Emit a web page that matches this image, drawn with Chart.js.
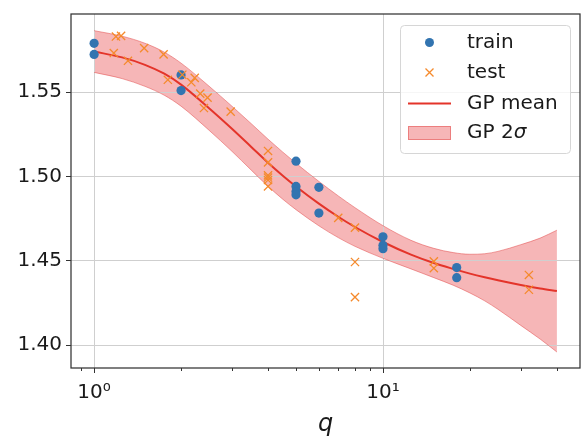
<!DOCTYPE html>
<html>
<head>
<meta charset="utf-8">
<script src="https://cdn.jsdelivr.net/npm/chart.js@4.4.1/dist/chart.umd.min.js"></script>
<style>
  html, body { margin: 0; padding: 0; background: #fff; }
  #wrap { width: 582px; height: 439px; position: relative; }
</style>
</head>
<body>
<div id="wrap"><canvas id="gpChart"></canvas></div>
<script>
// training samples
const trainQ = [1, 1, 2, 2, 5, 5, 5, 5, 6, 6, 10, 10, 10, 18, 18];
const trainY = [1.5791, 1.5725, 1.5603, 1.5510, 1.5090, 1.4940, 1.4910, 1.4890, 1.4935, 1.4782, 1.4641, 1.4590, 1.4570, 1.4458, 1.4398];

// held-out samples
const testQ = [1.17, 1.19, 1.24, 1.31, 1.49, 1.74, 1.80, 2.02, 2.17, 2.23, 2.33, 2.40, 2.47, 2.97,
  4, 4, 4, 4, 4, 4, 7, 8, 8, 8, 15, 15, 32, 32];
const testY = [1.5733, 1.5831, 1.5835, 1.5687, 1.5762, 1.5725, 1.5574, 1.5604, 1.5559, 1.5585, 1.5492, 1.5406, 1.5468, 1.5385,
  1.5151, 1.5083, 1.5006, 1.4993, 1.4978, 1.4940, 1.4753, 1.4695, 1.4491, 1.4282, 1.4495, 1.4454, 1.4414, 1.4326];

// GP posterior on a q grid
const gridQ = [1, 1.25, 1.5, 1.75, 2, 2.5, 3, 3.5, 4, 4.5, 5, 6, 7, 8, 10, 12.5, 15, 17.5, 20, 22.5, 25, 30, 35, 40];
const gpMean = [1.5742, 1.5707, 1.5663, 1.5610, 1.5545, 1.5405, 1.5283, 1.5175, 1.5081, 1.5004, 1.4940, 1.4838,
  1.4760, 1.4699, 1.4610, 1.4535, 1.4485, 1.4450, 1.4422, 1.4400, 1.4382, 1.4354, 1.4333, 1.4318];
const gpUpper = [1.5866, 1.5833, 1.5791, 1.5738, 1.5673, 1.5536, 1.5417, 1.5313, 1.5221, 1.5144, 1.5078, 1.4970,
  1.4884, 1.4814, 1.4707, 1.4620, 1.4572, 1.4547, 1.4537, 1.4540, 1.4554, 1.4594, 1.4633, 1.4680];
const gpLower = [1.5618, 1.5581, 1.5535, 1.5482, 1.5417, 1.5274, 1.5149, 1.5037, 1.4941, 1.4864, 1.4802, 1.4706,
  1.4636, 1.4584, 1.4513, 1.4450, 1.4398, 1.4353, 1.4307, 1.4260, 1.4210, 1.4114, 1.4033, 1.3956];

// axes
const yTicks = [1.40, 1.45, 1.50, 1.55];
const xMajor = [1, 10];
const xMinor = [0.9, 2, 3, 4, 5, 6, 7, 8, 9, 20, 30, 40];
const xLabels = { 1: '10\u2070', 10: '10\u00b9' };
const xTitle = 'q';
const legendLabels = ['train', 'test', 'GP mean', 'GP 2'];

const TRAIN = '#3274b0';
const TEST = '#f58a2c';
const MEAN = '#e4342a';
const BAND = 'rgba(232, 62, 66, 0.38)';
const BAND_EDGE = 'rgba(225, 70, 70, 0.5)';
const GRID = '#cfcfcf';
const SPINE = '#333333';
const TEXT = '#1a1a1a';
const FONT = '"DejaVu Sans", sans-serif';

const pts = (xs, ys) => xs.map((x, i) => ({ x: x, y: ys[i] }));

const axesPlugin = {
  id: 'axesDecor',
  beforeDatasetsDraw(chart) {
    // grid sits above the band but below lines/markers (matplotlib style)
    const { ctx, chartArea: a, scales } = chart;
    ctx.save();
    ctx.strokeStyle = GRID;
    ctx.lineWidth = 1;
    xMajor.forEach(v => {
      const px = Math.round(scales.x.getPixelForValue(v)) + 0.5;
      ctx.beginPath(); ctx.moveTo(px, a.top); ctx.lineTo(px, a.bottom); ctx.stroke();
    });
    yTicks.forEach(v => {
      const py = Math.round(scales.y.getPixelForValue(v)) + 0.5;
      ctx.beginPath(); ctx.moveTo(a.left, py); ctx.lineTo(a.right, py); ctx.stroke();
    });
    ctx.restore();
  },
  afterDraw(chart) {
    const { ctx, chartArea: a, scales } = chart;
    ctx.save();
    // tick marks
    ctx.strokeStyle = SPINE;
    ctx.lineWidth = 1;
    xMajor.concat(xMinor).forEach(v => {
      const px = Math.round(scales.x.getPixelForValue(v)) + 0.5;
      const len = xMajor.includes(v) ? 5 : 3;
      ctx.beginPath(); ctx.moveTo(px, a.bottom); ctx.lineTo(px, a.bottom + len); ctx.stroke();
    });
    yTicks.forEach(v => {
      const py = Math.round(scales.y.getPixelForValue(v)) + 0.5;
      ctx.beginPath(); ctx.moveTo(a.left - 5, py); ctx.lineTo(a.left, py); ctx.stroke();
    });
    // frame
    ctx.lineWidth = 1.25;
    ctx.strokeRect(a.left, a.top, a.right - a.left, a.bottom - a.top);

    // axis title
    ctx.fillStyle = TEXT;
    ctx.font = 'italic 24px ' + FONT;
    ctx.textAlign = 'center';
    ctx.textBaseline = 'alphabetic';
    ctx.fillText(xTitle, (a.left + a.right) / 2, 431);

    // legend box
    const lx = 400.5, ly = 25.5, lw = 170, lh = 128, r = 4;
    ctx.beginPath();
    ctx.moveTo(lx + r, ly);
    ctx.arcTo(lx + lw, ly, lx + lw, ly + lh, r);
    ctx.arcTo(lx + lw, ly + lh, lx, ly + lh, r);
    ctx.arcTo(lx, ly + lh, lx, ly, r);
    ctx.arcTo(lx, ly, lx + lw, ly, r);
    ctx.closePath();
    ctx.fillStyle = 'rgba(255,255,255,0.8)';
    ctx.fill();
    ctx.strokeStyle = '#d6d6d6';
    ctx.lineWidth = 1;
    ctx.stroke();

    const mx = 429.5, tx = 467;
    const rows = [42.5, 72.5, 103.5, 133];
    // train
    ctx.fillStyle = TRAIN;
    ctx.beginPath(); ctx.arc(mx, rows[0], 4.5, 0, Math.PI * 2); ctx.fill();
    // test
    ctx.strokeStyle = TEST;
    ctx.lineWidth = 1.3;
    ctx.beginPath();
    ctx.moveTo(mx - 4, rows[1] - 4); ctx.lineTo(mx + 4, rows[1] + 4);
    ctx.moveTo(mx + 4, rows[1] - 4); ctx.lineTo(mx - 4, rows[1] + 4);
    ctx.stroke();
    // mean
    ctx.strokeStyle = MEAN;
    ctx.lineWidth = 2;
    ctx.beginPath(); ctx.moveTo(408, rows[2]); ctx.lineTo(451, rows[2]); ctx.stroke();
    // band
    ctx.fillStyle = BAND;
    ctx.fillRect(408, rows[3] - 7, 43, 14);
    ctx.strokeStyle = BAND_EDGE;
    ctx.lineWidth = 1;
    ctx.strokeRect(408.5, rows[3] - 6.5, 42, 13);

    ctx.fillStyle = TEXT;
    ctx.textBaseline = 'middle';
    ctx.textAlign = 'left';
    ctx.font = '20px ' + FONT;
    legendLabels.forEach((t, i) => ctx.fillText(t, tx, rows[i]));
    const w = ctx.measureText(legendLabels[3]).width;
    ctx.font = 'italic 20px ' + FONT;
    ctx.fillText('\u03c3', tx + w, rows[3]);
    ctx.restore();
  }
};

new Chart(document.getElementById('gpChart'), {
  type: 'line',
  data: {
    datasets: [
      {
        label: 'train',
        data: pts(trainQ, trainY),
        showLine: false,
        pointStyle: 'circle',
        pointRadius: 4.6,
        pointBackgroundColor: TRAIN,
        pointBorderWidth: 0,
        order: 1,
      },
      {
        label: 'test',
        data: pts(testQ, testY),
        showLine: false,
        pointStyle: 'crossRot',
        pointRadius: 5.8,
        pointBorderColor: TEST,
        pointBorderWidth: 1.3,
        order: 0,
      },
      {
        label: 'GP mean',
        data: pts(gridQ, gpMean),
        borderColor: MEAN,
        borderWidth: 2,
        pointRadius: 0,
        fill: false,
        cubicInterpolationMode: 'monotone',
        order: 2,
      },
      {
        label: 'GP 2σ upper',
        data: pts(gridQ, gpUpper),
        borderColor: BAND_EDGE,
        borderWidth: 1,
        backgroundColor: BAND,
        fill: '+1',
        pointRadius: 0,
        cubicInterpolationMode: 'monotone',
        order: 3,
      },
      {
        label: 'GP 2σ lower',
        data: pts(gridQ, gpLower),
        borderColor: BAND_EDGE,
        borderWidth: 1,
        fill: false,
        pointRadius: 0,
        cubicInterpolationMode: 'monotone',
        order: 4,
      },
    ],
  },
  options: {
    responsive: true,
    maintainAspectRatio: false,
    animation: false,
    events: [],
    // autoPadding would reserve room for point overflow and shrink the plot
    layout: { autoPadding: false, padding: { top: 14, right: 2, left: 0, bottom: 0 } },
    plugins: {
      legend: { display: false },
      tooltip: { enabled: false },
      filler: { drawTime: 'beforeDatasetsDraw' },
    },
    scales: {
      x: {
        type: 'logarithmic',
        min: 0.8318,
        max: 48.09,
        afterBuildTicks: (scale) => {
          scale.ticks = xMajor.concat(xMinor).sort((a, b) => a - b).map(v => ({ value: v }));
        },
        afterFit: (scale) => { scale.height = 71; },
        // invisible tick length only sets the label offset; marks are drawn by the plugin
        grid: { drawOnChartArea: false, drawTicks: true, tickLength: 13, tickColor: 'rgba(0,0,0,0)' },
        border: { display: false },
        ticks: {
          autoSkip: false,
          maxRotation: 0,
          padding: 0,
          color: TEXT,
          font: { family: FONT, size: 20 },
          callback: (v) => xLabels[v] || '',
        },
      },
      y: {
        type: 'linear',
        min: 1.3861,
        max: 1.5965,
        afterBuildTicks: (scale) => {
          scale.ticks = yTicks.map(v => ({ value: v }));
        },
        afterFit: (scale) => { scale.width = 71; },
        grid: { drawOnChartArea: false, drawTicks: true, tickLength: 9, tickColor: 'rgba(0,0,0,0)' },
        border: { display: false },
        ticks: {
          padding: 0,
          color: TEXT,
          font: { family: FONT, size: 20 },
          callback: (v) => v.toFixed(2),
        },
      },
    },
  },
  plugins: [axesPlugin],
});
</script>
</body>
</html>
